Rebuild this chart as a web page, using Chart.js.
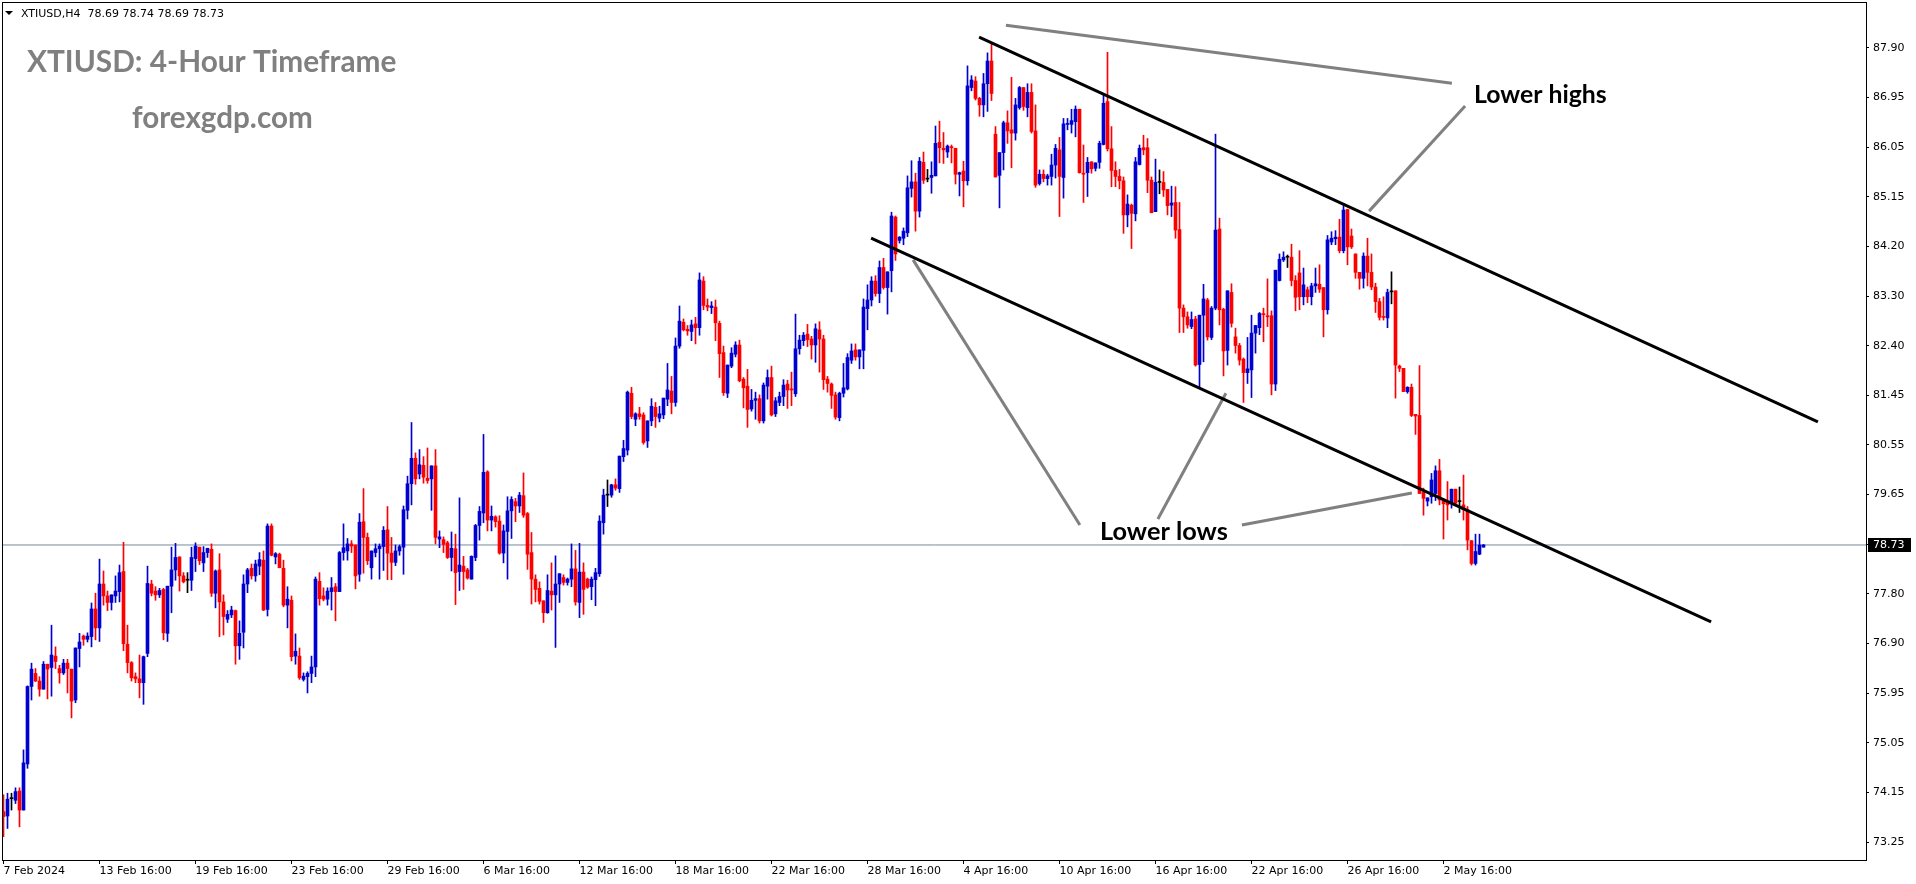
<!DOCTYPE html>
<html lang="en">
<head>
<meta charset="UTF-8">
<title>XTIUSD H4</title>
<script src="https://cdn.jsdelivr.net/npm/chart.js"></script>
<style>
    html, body {
        margin: 0;
        padding: 0;
        background: #ffffff;
        overflow: hidden;
    }
    #wrap {
        position: relative;
        width: 1916px;
        height: 884px;
    }
</style>
</head>
<body>
<div id="wrap"><canvas id="chart" width="1916" height="884"></canvas></div>
<script>
// H4 candles, 7 Feb 2024 -> 3 May 2024 (bar index = position on the x axis)
const opens = [
    73.81,73.73,74.05,74.02,74.19,73.84,74.69,76.12,76.36,76.22,
    76.07,76.53,76.47,76.68,76.45,76.37,76.55,76.44,75.87,76.82,
    77.05,76.99,77.04,77.55,77.20,78.01,77.79,77.67,77.79,77.87,
    78.24,76.90,76.56,76.30,76.26,76.19,76.73,78.01,77.88,77.81,
    77.91,77.10,77.97,78.27,78.51,78.16,78.08,78.08,78.48,78.69,
    78.40,78.59,78.65,77.84,78.27,77.68,77.36,77.44,77.52,76.87,
    77.12,78.01,78.30,78.16,78.34,78.45,77.54,79.08,78.51,78.56,
    78.30,77.62,77.71,76.68,76.68,76.25,76.30,76.36,76.48,78.06,
    77.79,77.73,77.87,77.96,77.87,78.59,78.62,78.75,78.73,78.19,
    79.16,78.87,78.31,78.59,78.66,78.70,79.01,78.58,78.41,78.62,
    78.69,79.37,79.86,80.33,80.04,80.20,79.96,79.95,80.19,78.84,
    78.83,78.77,78.50,78.66,78.24,78.34,78.27,78.10,78.50,79.09,
    79.32,80.08,79.19,79.25,79.17,78.58,78.98,79.36,79.53,79.45,
    79.64,79.31,78.59,78.10,77.93,77.70,77.48,77.88,77.81,78.01,
    78.13,78.04,78.10,78.29,77.67,78.23,78.10,77.96,78.09,78.20,
    79.14,79.65,79.65,79.84,79.77,80.36,80.48,81.53,81.05,81.15,
    81.13,80.65,81.02,81.27,81.07,81.13,81.42,81.57,81.36,82.40,
    82.84,82.71,82.67,82.81,82.74,83.60,83.15,83.11,83.12,82.82,
    82.28,81.53,82.03,82.25,82.42,81.79,81.66,81.24,81.40,81.43,
    81.02,81.66,81.82,81.15,81.36,81.47,81.70,81.61,81.52,82.35,
    82.50,82.62,82.53,82.42,82.70,82.53,81.79,81.70,81.50,81.08,
    81.53,81.61,82.14,82.33,82.20,82.32,83.09,83.25,83.60,83.37,
    83.85,83.48,83.79,84.78,84.35,84.39,84.49,85.31,85.43,84.89,
    85.79,85.48,85.51,85.54,86.16,86.05,85.98,86.07,86.05,85.57,
    85.63,85.45,87.17,87.29,86.97,86.85,87.24,87.66,86.31,85.55,
    85.97,86.52,86.39,86.33,86.80,87.17,86.80,87.08,86.37,85.40,
    85.57,85.49,85.53,85.74,86.02,85.51,86.49,86.49,86.54,86.77,
    85.59,85.60,85.80,85.68,85.79,86.12,86.91,86.04,85.64,85.53,
    85.45,84.82,85.00,84.84,85.75,86.06,86.06,85.46,84.88,85.42,
    85.42,85.29,85.00,85.05,84.55,83.10,82.94,82.76,82.90,82.06,
    82.97,83.25,82.56,83.10,84.56,83.08,82.32,83.39,82.57,82.41,
    82.16,81.91,81.96,82.64,82.74,82.99,82.96,82.96,81.70,83.61,
    83.99,84.04,84.04,83.61,83.75,83.31,83.44,83.31,83.51,83.54,
    83.48,83.07,84.32,84.38,84.41,84.16,84.92,84.43,84.10,83.76,
    83.65,84.06,83.76,83.49,83.22,82.94,82.92,83.40,83.42,82.03,
    81.99,81.56,81.64,81.14,81.12,79.70,79.54,79.62,79.68,80.10,
    79.56,79.53,79.50,79.76,79.53,79.47,79.38,78.81,78.39,78.56,
    78.69
];
const highs = [
    74.12,74.15,74.15,74.25,74.25,74.95,76.13,76.55,76.45,76.30,
    76.58,76.53,77.25,76.85,76.51,76.62,76.62,76.44,76.83,77.10,
    77.07,77.11,77.66,77.84,78.47,78.25,77.88,77.81,78.16,78.36,
    78.78,77.25,76.58,76.37,76.70,76.68,78.34,78.08,77.96,77.93,
    77.93,77.97,78.69,78.76,78.51,78.22,78.22,78.69,78.77,78.69,
    78.70,78.67,78.75,78.27,78.57,77.81,77.52,77.60,77.53,77.33,
    78.18,78.30,78.38,78.45,78.59,78.62,79.12,79.12,78.59,78.58,
    78.45,77.96,77.79,77.09,76.83,76.37,76.39,76.68,78.14,78.22,
    77.94,77.94,78.13,78.02,78.61,79.12,78.85,78.81,78.73,79.31,
    79.77,78.95,78.62,78.75,78.75,79.07,79.44,78.87,78.73,78.73,
    79.45,80.00,80.99,80.43,80.49,80.36,80.52,80.19,80.49,78.99,
    78.88,78.80,78.97,78.93,79.60,78.52,78.30,78.53,79.11,79.44,
    80.77,80.10,79.45,79.27,79.27,79.10,79.62,79.62,79.59,79.70,
    80.06,79.33,78.96,78.18,78.05,77.70,78.18,78.40,78.53,78.20,
    78.18,78.12,78.75,78.63,78.76,78.40,78.12,78.14,78.30,79.27,
    79.76,79.93,79.85,79.95,80.37,80.66,81.57,81.64,81.17,81.27,
    81.17,81.02,81.43,81.36,81.29,81.44,82.08,81.84,82.55,83.14,
    82.90,82.78,82.88,82.93,83.75,83.68,83.27,83.22,83.25,82.86,
    82.40,82.05,82.37,82.48,82.51,81.82,81.97,81.60,81.55,81.50,
    81.72,81.96,82.03,81.45,81.55,81.78,81.77,81.92,82.99,82.60,
    82.65,82.80,82.58,82.81,82.85,82.60,81.84,81.72,81.55,81.55,
    82.08,82.26,82.44,82.44,82.33,83.27,83.53,83.68,83.70,83.97,
    84.02,83.77,84.87,84.80,84.42,84.58,85.54,85.82,85.59,85.88,
    85.98,85.66,85.80,86.46,86.55,86.34,86.11,86.11,86.05,85.61,
    85.81,87.57,87.39,87.37,86.99,87.43,87.81,87.99,86.45,85.97,
    86.55,86.74,87.36,86.97,87.19,87.17,87.24,87.24,86.85,85.65,
    85.65,85.57,85.94,86.12,86.25,86.60,86.60,86.77,86.83,86.77,
    86.11,85.88,85.80,85.78,86.18,87.03,87.82,86.45,85.80,85.66,
    85.52,85.19,85.02,85.88,86.11,86.29,86.23,85.52,85.85,85.65,
    85.62,85.29,85.35,85.34,85.05,83.16,83.03,83.03,82.95,82.97,
    83.54,83.28,83.13,86.31,84.76,83.10,83.42,83.55,82.73,82.45,
    82.18,82.56,82.97,82.78,83.02,83.10,83.64,83.05,83.80,84.10,
    84.14,84.08,84.28,83.70,84.16,83.84,83.49,83.56,83.84,83.90,
    83.48,84.44,84.51,84.53,84.74,85.00,84.92,84.56,84.10,83.76,
    84.12,84.39,84.10,83.56,83.28,83.31,83.45,83.77,83.42,82.05,
    81.99,81.65,81.70,81.14,82.04,79.78,79.60,80.05,80.19,80.31,
    79.59,79.90,79.76,79.76,79.80,80.02,79.44,78.81,78.93,78.93,
    78.74
];
const lows = [
    73.35,73.50,73.84,73.96,73.53,73.84,74.61,75.87,76.21,75.94,
    76.07,75.89,75.94,76.45,76.18,76.34,76.00,75.54,75.82,76.48,
    76.88,76.94,76.85,76.98,76.95,77.62,77.52,77.53,77.67,77.68,
    76.78,76.37,76.22,76.19,75.91,75.79,76.67,77.79,77.71,77.76,
    76.98,76.95,77.48,78.08,77.88,78.03,77.85,77.89,78.24,78.37,
    78.24,78.50,77.78,77.57,77.04,77.07,77.30,77.39,76.53,76.62,
    76.83,77.85,78.10,78.06,78.18,77.52,77.42,78.53,78.38,78.31,
    77.59,77.20,76.59,76.53,76.25,76.22,76.00,76.19,76.30,77.62,
    77.70,77.62,77.53,77.33,77.87,78.45,78.45,78.59,77.92,78.06,
    78.21,78.37,78.10,78.51,78.10,78.26,78.09,78.09,78.35,78.54,
    78.19,79.21,79.47,79.85,79.95,79.87,79.87,79.37,78.75,78.68,
    78.59,78.48,78.25,77.63,77.89,77.91,78.10,78.10,78.44,78.82,
    79.14,78.99,78.99,79.06,78.56,78.40,78.10,78.85,79.16,79.33,
    79.24,78.28,77.64,77.68,77.64,77.30,77.47,77.53,76.84,77.67,
    77.99,77.99,77.96,77.62,77.39,77.45,77.93,77.72,77.61,78.15,
    78.93,79.44,79.61,79.74,79.70,80.27,80.39,81.06,80.93,81.05,
    80.59,80.53,80.93,80.90,81.00,81.06,81.30,81.15,81.29,82.36,
    82.68,82.60,82.50,82.44,82.60,83.07,83.05,83.00,82.50,81.82,
    81.49,81.45,82.00,82.20,81.74,81.26,80.90,81.20,81.05,80.98,
    80.98,81.42,81.11,81.10,81.30,81.30,81.25,81.30,81.47,82.25,
    82.41,82.39,82.16,82.10,81.92,81.60,81.55,81.25,81.05,81.02,
    81.46,81.59,82.08,82.14,81.98,81.98,82.70,83.14,83.32,83.20,
    83.45,82.99,83.40,83.98,84.30,84.27,84.42,85.15,84.52,84.78,
    85.40,85.43,85.22,85.54,85.78,85.77,85.88,85.78,85.39,85.17,
    84.97,85.37,87.11,86.94,86.64,86.63,86.73,86.93,85.52,84.95,
    85.65,86.14,85.69,86.20,86.77,86.75,86.63,86.33,85.33,85.37,
    85.43,85.37,85.37,85.50,84.79,85.13,86.39,86.33,86.26,85.59,
    85.05,85.16,85.59,85.63,85.68,86.11,86.00,85.34,85.34,85.30,
    84.48,84.60,84.20,84.71,85.74,85.93,85.23,84.86,84.88,85.21,
    85.16,84.82,84.79,84.39,82.65,82.65,82.73,82.72,82.03,81.65,
    82.11,82.51,82.52,83.07,82.79,81.85,82.05,82.75,82.27,82.05,
    81.36,81.71,81.45,82.27,82.61,82.48,82.76,81.50,81.58,83.60,
    83.96,83.85,83.51,83.05,83.07,83.16,83.20,83.16,83.39,83.39,
    82.57,82.99,84.27,84.27,84.12,84.12,83.90,84.20,83.65,83.45,
    83.47,83.51,83.44,83.02,82.88,82.88,82.74,83.18,81.44,81.93,
    81.56,81.53,81.10,80.77,79.68,79.28,79.45,79.50,79.55,79.47,
    78.84,79.19,79.41,79.47,79.33,79.19,78.64,78.36,78.36,78.55,
    78.69
];
const closes = [
    73.72,74.04,74.05,74.18,73.84,74.71,76.12,76.44,76.22,76.07,
    76.53,76.44,76.70,76.58,76.37,76.55,76.45,75.85,76.83,76.94,
    76.99,77.05,77.55,77.20,78.01,77.79,77.67,77.81,77.88,78.22,
    76.91,76.56,76.28,76.26,76.19,76.67,78.02,77.84,77.81,77.89,
    77.11,77.97,78.27,78.50,78.16,78.05,78.08,78.50,78.71,78.44,
    78.59,78.67,77.84,78.25,77.68,77.41,77.45,77.53,76.87,77.10,
    78.01,78.27,78.16,78.38,78.46,77.53,79.08,78.54,78.57,78.31,
    77.62,77.73,76.67,76.77,76.28,76.31,76.36,76.48,78.10,77.74,
    77.73,77.88,77.94,77.87,78.59,78.68,78.75,78.71,78.16,79.15,
    78.87,78.44,78.62,78.66,78.71,79.00,78.58,78.41,78.62,78.70,
    79.38,79.86,80.33,79.95,80.21,79.98,79.92,80.19,78.87,78.88,
    78.74,78.50,78.67,78.22,78.36,78.24,78.12,78.52,79.09,79.35,
    80.07,79.19,79.26,79.16,78.58,78.99,79.36,79.57,79.45,79.65,
    79.28,78.56,78.10,77.91,77.69,77.48,77.89,77.81,78.01,78.20,
    78.04,78.10,78.29,77.68,78.23,77.91,77.95,78.10,78.22,79.17,
    79.65,79.65,79.84,79.78,80.37,80.51,81.55,81.10,81.15,81.10,
    80.62,81.02,81.29,81.10,81.15,81.44,81.59,81.36,82.40,82.86,
    82.70,82.68,82.79,82.74,83.62,83.15,83.12,83.14,82.83,82.26,
    81.54,82.05,82.27,82.42,81.76,81.63,81.23,81.40,81.43,81.02,
    81.68,81.82,81.13,81.39,81.47,81.68,81.59,81.59,82.35,82.51,
    82.60,82.52,82.42,82.72,82.53,81.78,81.71,81.49,81.09,81.53,
    81.63,82.19,82.31,82.20,82.33,83.12,83.25,83.60,83.37,83.85,
    83.48,83.77,84.80,84.10,84.41,84.52,85.32,85.43,84.89,85.81,
    85.46,85.48,85.55,86.14,86.06,86.02,86.09,86.06,85.57,85.60,
    85.45,87.20,87.31,86.97,86.85,87.24,87.66,87.06,85.52,85.97,
    86.52,86.37,86.33,86.85,87.17,86.82,87.08,86.36,85.37,85.57,
    85.49,85.54,85.74,86.05,85.53,86.50,86.50,86.56,86.77,85.60,
    85.57,85.79,85.67,85.78,86.14,86.88,86.04,85.64,85.53,85.45,
    84.82,85.02,84.85,85.80,86.05,86.02,85.46,84.86,85.42,85.42,
    85.28,84.99,85.04,84.54,83.10,82.94,82.79,82.89,82.05,82.97,
    83.27,82.57,83.10,84.54,83.07,82.31,83.42,82.82,82.41,82.14,
    81.91,81.98,82.64,82.78,83.00,82.98,82.94,81.70,83.80,84.00,
    84.04,84.04,83.61,83.30,83.31,83.53,83.31,83.51,83.55,83.45,
    83.07,84.36,84.39,84.41,84.16,84.91,84.23,84.23,83.76,83.65,
    84.06,83.76,83.49,83.22,82.93,82.93,83.39,83.40,82.05,81.99,
    81.56,81.64,81.12,81.11,79.68,79.59,79.60,79.93,80.10,79.56,
    79.49,79.47,79.76,79.50,79.53,79.38,78.82,78.39,78.61,78.73,
    78.73
];

// axis labels
const xTickBars = [0, 24, 48, 72, 96, 120, 144, 168, 192, 216, 240, 264, 288, 312, 336, 360];
const xTickLabels = ['7 Feb 2024', '13 Feb 16:00', '19 Feb 16:00', '23 Feb 16:00', '29 Feb 16:00',
    '6 Mar 16:00', '12 Mar 16:00', '18 Mar 16:00', '22 Mar 16:00', '28 Mar 16:00',
    '4 Apr 16:00', '10 Apr 16:00', '16 Apr 16:00', '22 Apr 16:00', '26 Apr 16:00', '2 May 16:00'];
const yTickLabels = ['73.25', '74.15', '75.05', '75.95', '76.90', '77.80', '78.75', '79.65', '80.55',
    '81.45', '82.40', '83.30', '84.20', '85.15', '86.05', '86.95', '87.90'];
const lastPrice = 78.73;

// drawn lines, as [bar, price] end points
const upperChannel = [[243.9, 88.10], [453.6, 81.00]];
const lowerChannel = [[216.9, 84.39], [426.9, 77.31]];
const highsGuide = [[250.6, 88.32], [362.1, 87.25]];
const highsPointer = [[341.4, 84.89], [365.4, 86.83]];
const lowsPointer1 = [[227.4, 83.99], [269.1, 79.10]];
const lowsPointer2 = [[288.6, 79.21], [305.6, 81.53]];
const lowsPointer3 = [[309.6, 79.10], [352.1, 79.69]];

const X_MIN = -0.125, X_MAX = 465.625;
const BULL = '#0000d0', BEAR = '#ff0000', DOJI = '#000000';

function candleColor(i) {
    if (closes[i] > opens[i]) return BULL;
    if (closes[i] < opens[i]) return BEAR;
    return DOJI;
}

function lineSet(points, color, width, order) {
    return {
        type: 'line',
        data: points.map(p => ({x: p[0], y: p[1]})),
        borderColor: color,
        borderWidth: width,
        pointRadius: 0,
        fill: false,
        tension: 0,
        order: order
    };
}

function fitText(ctx, text, x, y, width, color) {
    ctx.font = 'bold 40px Lato';
    const size = 40 * width / ctx.measureText(text).width;
    ctx.font = 'bold ' + size.toFixed(1) + 'px Lato';
    ctx.fillStyle = color;
    ctx.textAlign = 'left';
    ctx.textBaseline = 'alphabetic';
    ctx.fillText(text, x, y);
}

// frame, price tag and the texts on top of the chart
const overlay = {
    id: 'overlay',
    afterDraw(chart) {
        const {ctx, chartArea: a, scales} = chart;
        ctx.save();

        ctx.strokeStyle = '#000';
        ctx.lineWidth = 1;
        ctx.strokeRect(a.left - 0.5, a.top - 0.5, a.right - a.left + 1, a.bottom - a.top + 1);

        // current price tag on the axis
        const py = Math.round(scales.y.getPixelForValue(lastPrice));
        ctx.fillStyle = '#000';
        ctx.fillRect(a.right + 2, py - 7, 43, 14);
        ctx.fillStyle = '#fff';
        ctx.font = '11px "DejaVu Sans"';
        ctx.textBaseline = 'middle';
        ctx.fillText(lastPrice.toFixed(2), a.right + 7, py);

        // header
        ctx.fillStyle = '#000';
        ctx.beginPath();
        ctx.moveTo(5, 11);
        ctx.lineTo(13, 11);
        ctx.lineTo(9, 15);
        ctx.closePath();
        ctx.fill();
        ctx.font = '11px "DejaVu Sans"';
        ctx.textBaseline = 'alphabetic';
        ctx.fillText('XTIUSD,H4  78.69 78.74 78.69 78.73', 21, 17);

        fitText(ctx, 'XTIUSD: 4-Hour Timeframe', 27, 72, 370, '#808080');
        fitText(ctx, 'forexgdp.com', 132, 128, 181, '#808080');
        fitText(ctx, 'Lower highs', 1474, 103, 133, '#000');
        fitText(ctx, 'Lower lows', 1100, 540, 128, '#000');

        ctx.restore();
    }
};

const font = {family: 'DejaVu Sans', size: 11};

new Chart(document.getElementById('chart'), {
    type: 'bar',
    data: {
        datasets: [
            lineSet(upperChannel, '#000', 3, 0),
            lineSet(lowerChannel, '#000', 3, 0),
            lineSet(highsGuide, '#808080', 3, 1),
            lineSet(highsPointer, '#808080', 3, 1),
            lineSet(lowsPointer1, '#808080', 3, 1),
            lineSet(lowsPointer2, '#808080', 3, 1),
            lineSet(lowsPointer3, '#808080', 3, 1),
            {
                // bodies
                type: 'bar',
                data: opens.map((o, i) => ({x: i, y: [o, closes[i]]})),
                backgroundColor: ctx => candleColor(ctx.dataIndex),
                barThickness: 3,
                minBarLength: 1,
                grouped: false,
                borderWidth: 0,
                order: 2
            },
            {
                // wicks
                type: 'bar',
                data: highs.map((h, i) => ({x: i, y: [lows[i], h]})),
                backgroundColor: ctx => candleColor(ctx.dataIndex),
                barThickness: 1,
                grouped: false,
                borderWidth: 0,
                order: 3
            },
            lineSet([[X_MIN, lastPrice], [X_MAX, lastPrice]], '#778899', 1, 5)
        ]
    },
    options: {
        responsive: false,
        animation: false,
        devicePixelRatio: 1,
        layout: {padding: {left: 3, top: 3, right: 0, bottom: 0}},
        plugins: {
            legend: {display: false},
            tooltip: {enabled: false}
        },
        scales: {
            x: {
                type: 'linear',
                position: 'bottom',
                min: X_MIN,
                max: X_MAX,
                offset: false,
                grid: {display: true, offset: false, drawOnChartArea: false, drawTicks: true, tickLength: 4, color: '#000'},
                border: {display: true, color: '#000', width: 1},
                ticks: {
                    autoSkip: false,
                    maxRotation: 0,
                    align: 'start',
                    padding: 1,
                    color: '#000',
                    font: font,
                    callback: (v, idx) => xTickLabels[idx]
                },
                afterBuildTicks: s => { s.ticks = xTickBars.map(v => ({value: v})); },
                afterFit: s => {
                    s.height = 24;
                    s.paddingLeft = 0;
                    s.paddingRight = 0;
                }
            },
            y: {
                type: 'linear',
                position: 'right',
                min: 72.918,
                max: 88.730,
                beginAtZero: false,
                grid: {display: true, drawOnChartArea: false, drawTicks: true, tickLength: 3, color: '#000'},
                border: {display: true, color: '#000', width: 1},
                ticks: {
                    padding: 4,
                    color: '#000',
                    font: font,
                    callback: (v, idx) => yTickLabels[idx]
                },
                afterBuildTicks: s => {
                    s.ticks = yTickLabels.map((l, k) => ({value: 73.25 + k * (87.90 - 73.25) / 16}));
                },
                afterFit: s => {
                    s.width = 50;
                    s.paddingTop = 0;
                    s.paddingBottom = 0;
                }
            }
        }
    },
    plugins: [overlay]
});
</script>
</body>
</html>
